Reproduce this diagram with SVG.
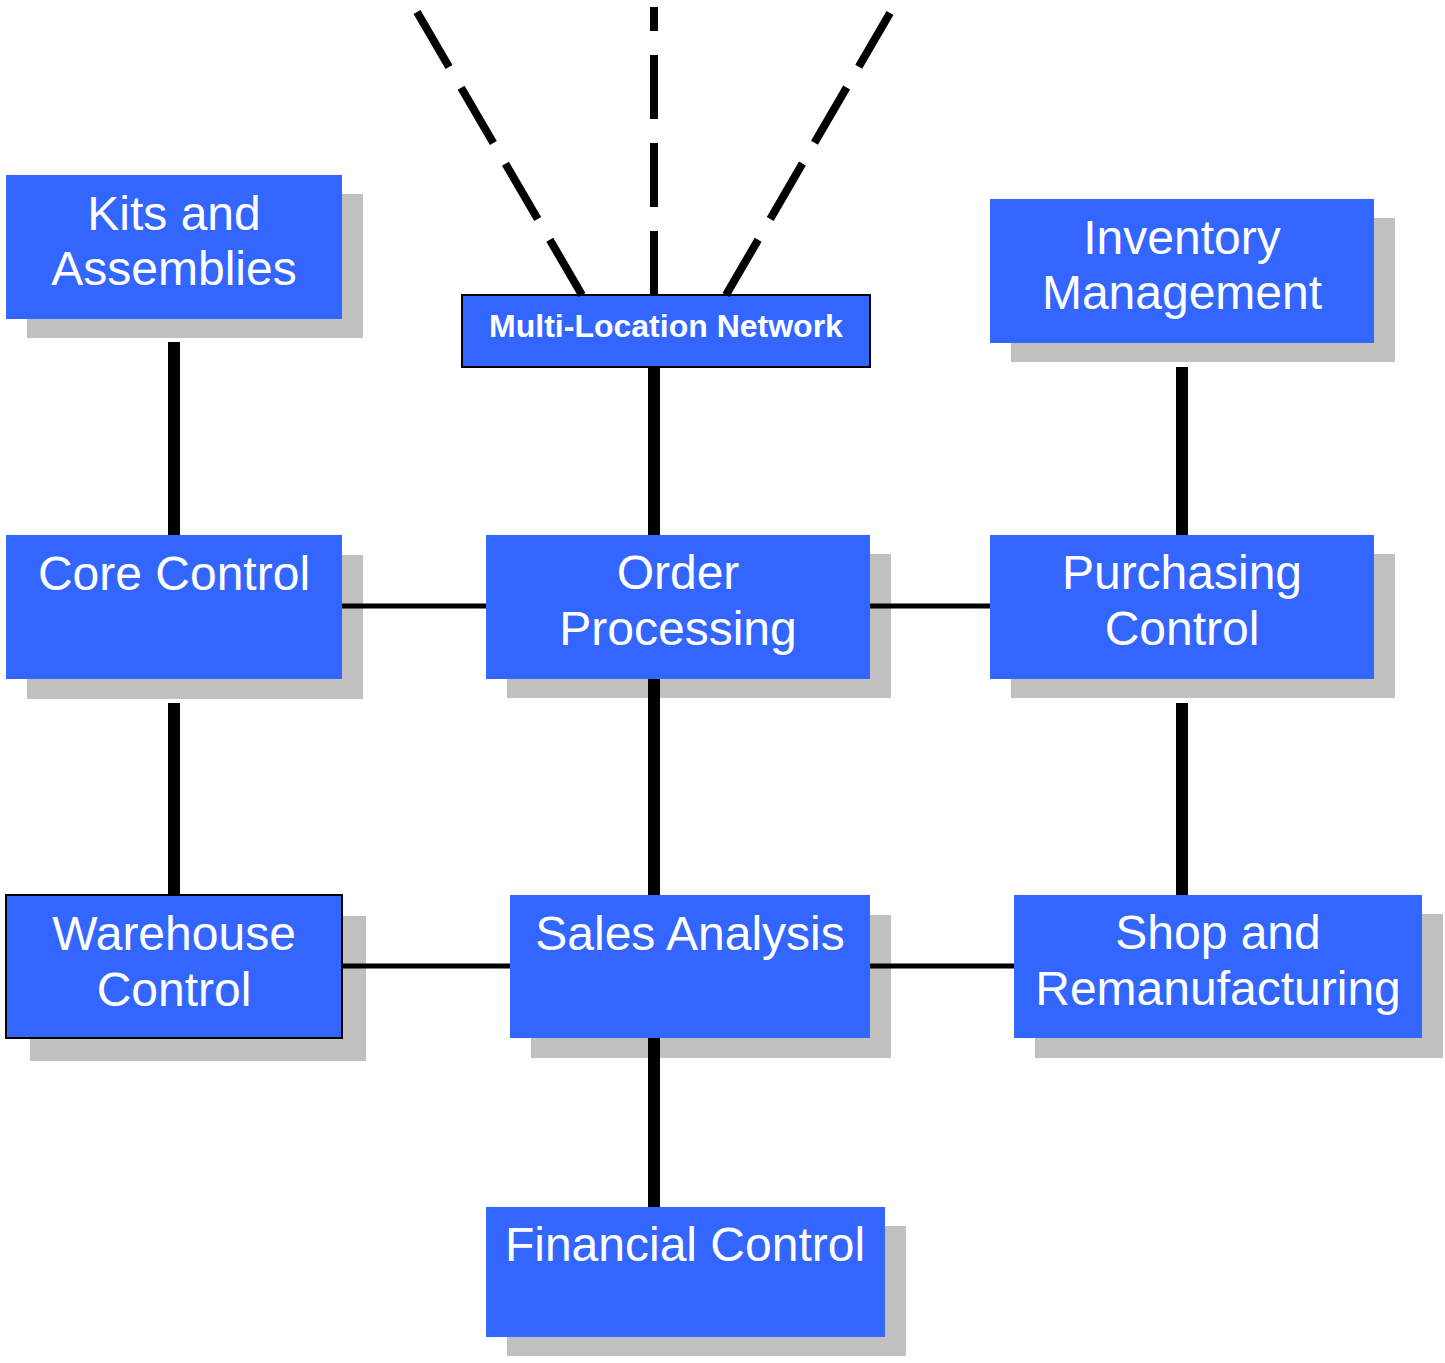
<svg xmlns="http://www.w3.org/2000/svg" width="1445" height="1363" viewBox="0 0 1445 1363">
<style>
.box{fill:#3366FF}
.bord{stroke:#000;stroke-width:2}
.sh{fill:#C0C0C0}
.t{font-family:"Liberation Sans",Arial,sans-serif;font-size:48px;fill:#fff;text-anchor:middle}
.tb{font-family:"Liberation Sans",Arial,sans-serif;font-size:32px;font-weight:bold;fill:#fff;text-anchor:middle}
.v{stroke:#000;stroke-width:12;fill:none}
.h{stroke:#000;stroke-width:5;fill:none}
.d{stroke:#000;stroke-width:8;fill:none;stroke-dasharray:64 24}
</style>
<rect width="1445" height="1363" fill="#fff"/>
<g id="kits">
<rect class="sh" x="27" y="194" width="336" height="144"/>
<rect class="box" x="6" y="175" width="336" height="144"/>
<text class="t" x="174" y="230">Kits and</text>
<text class="t" x="174" y="285">Assemblies</text>
</g>
<g id="multi">
<rect class="box bord" x="462" y="295" width="408" height="72"/>
<text class="tb" x="666" y="337">Multi-Location Network</text>
</g>
<g id="inventory">
<rect class="sh" x="1011" y="218" width="384" height="144"/>
<rect class="box" x="990" y="199" width="384" height="144"/>
<text class="t" x="1182" y="254">Inventory</text>
<text class="t" x="1182" y="309">Management</text>
</g>
<g id="core">
<rect class="sh" x="27" y="555" width="336" height="144"/>
<rect class="box" x="6" y="535" width="336" height="144"/>
<text class="t" x="174" y="590">Core Control</text>
</g>
<g id="order">
<rect class="sh" x="507" y="554" width="384" height="144"/>
<rect class="box" x="486" y="535" width="384" height="144"/>
<text class="t" x="678" y="589">Order</text>
<text class="t" x="678" y="645">Processing</text>
</g>
<g id="purchasing">
<rect class="sh" x="1011" y="554" width="384" height="144"/>
<rect class="box" x="990" y="535" width="384" height="144"/>
<text class="t" x="1182" y="589">Purchasing</text>
<text class="t" x="1182" y="645">Control</text>
</g>
<g id="warehouse">
<rect class="sh" x="30" y="916" width="336" height="145"/>
<rect class="box bord" x="6" y="895" width="336" height="143"/>
<text class="t" x="174" y="950">Warehouse</text>
<text class="t" x="174" y="1006">Control</text>
</g>
<g id="sales">
<rect class="sh" x="531" y="915" width="360" height="143"/>
<rect class="box" x="510" y="895" width="360" height="143"/>
<text class="t" x="690" y="950">Sales Analysis</text>
</g>
<g id="shop">
<rect class="sh" x="1035" y="914" width="408" height="144"/>
<rect class="box" x="1014" y="895" width="408" height="143"/>
<text class="t" x="1218" y="949">Shop and</text>
<text class="t" x="1218" y="1005">Remanufacturing</text>
</g>
<g id="financial">
<rect class="sh" x="507" y="1226" width="399" height="130"/>
<rect class="box" x="486" y="1207" width="399" height="130"/>
<text class="t" x="685" y="1261">Financial Control</text>
</g>
<g id="connectors">
<line class="d" x1="654" y1="295" x2="654" y2="7"/>
<line class="d" x1="582" y1="295" x2="417" y2="12"/>
<line class="d" x1="726" y1="295" x2="890" y2="13"/>
<line class="v" x1="174" y1="342" x2="174" y2="535"/>
<line class="v" x1="174" y1="703" x2="174" y2="895"/>
<line class="v" x1="654" y1="367" x2="654" y2="535"/>
<line class="v" x1="654" y1="679" x2="654" y2="895"/>
<line class="v" x1="654" y1="1038" x2="654" y2="1207"/>
<line class="v" x1="1182" y1="367" x2="1182" y2="535"/>
<line class="v" x1="1182" y1="703" x2="1182" y2="895"/>
<line class="h" x1="342" y1="606" x2="486" y2="606"/>
<line class="h" x1="870" y1="606" x2="990" y2="606"/>
<line class="h" x1="343" y1="966" x2="510" y2="966"/>
<line class="h" x1="870" y1="966" x2="1014" y2="966"/>
</g>
</svg>
